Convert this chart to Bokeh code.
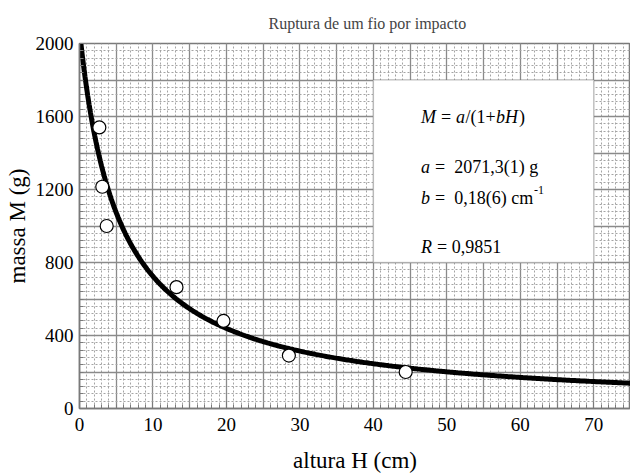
import numpy as np
from bokeh.plotting import figure
from bokeh.models import (SingleIntervalTicker, BoxAnnotation, Label, Range1d)
from bokeh.embed import file_html
from bokeh.resources import INLINE

# ---- data ----
altura_H = [2.7, 3.1, 3.7, 13.2, 19.6, 28.5, 44.4]          # cm
massa_M = [1540, 1215, 1000, 665, 480, 290, 200]            # g
fit_a = 2071.3   # g
fit_b = 0.186    # 1/cm
title_text = "Ruptura de um fio por impacto"
x_label = "altura H (cm)"
y_label = "massa M (g)"

H_fit = np.linspace(0, 75, 400)
M_fit = fit_a / (1 + fit_b * H_fit)

FONT = "Liberation Serif"
NB = "\u00a0"

p = figure(width=630, height=475, output_backend="svg", toolbar_location=None,
           x_range=Range1d(0, 75), y_range=Range1d(0, 2000),
           min_border_left=79, min_border_right=0, min_border_top=43,
           min_border_bottom=65)
p.background_fill_color = "white"
p.border_fill_color = "white"
p.outline_line_color = "#7a7a7a"
p.outline_line_width = 1.5

# title
p.title.text = title_text
p.title.text_font = FONT
p.title.text_font_size = "16px"
p.title.text_font_style = "normal"
p.title.align = "left"
p.title.offset = 189
p.title.standoff = 24

# grids
p.xgrid.ticker = SingleIntervalTicker(interval=5, num_minor_ticks=5)
p.ygrid.ticker = SingleIntervalTicker(interval=200, num_minor_ticks=5)
for g in (p.xgrid, p.ygrid):
    g.grid_line_color = "#8a8a8a"
    g.grid_line_width = 1.3
    g.minor_grid_line_color = "#a4a4a4"
    g.minor_grid_line_width = 1
    g.minor_grid_line_dash = "2 2"

# axes
p.xaxis.ticker = SingleIntervalTicker(interval=10, num_minor_ticks=10)
p.yaxis.ticker = SingleIntervalTicker(interval=400, num_minor_ticks=10)
p.xaxis.axis_label = x_label
p.yaxis.axis_label = y_label
for ax in (p.xaxis, p.yaxis):
    ax.axis_line_color = "#7a7a7a"
    ax.axis_line_width = 1.5
    ax.major_tick_in = 7
    ax.major_tick_out = 0
    ax.minor_tick_in = 4
    ax.minor_tick_out = 0
    ax.major_tick_line_color = "#7a7a7a"
    ax.minor_tick_line_color = "#7a7a7a"
    ax.major_label_text_font = FONT
    ax.major_label_text_font_size = "19px"
    ax.major_label_text_color = "black"
    ax.axis_label_text_font = FONT
    ax.axis_label_text_font_size = "23px"
    ax.axis_label_text_font_style = "normal"
    ax.axis_label_text_color = "black"
p.xaxis.major_label_standoff = 9
p.yaxis.major_label_standoff = 6
p.xaxis.axis_label_standoff = 14
p.yaxis.axis_label_standoff = 3

# fit curve and points
p.line(H_fit, M_fit, line_color="black", line_width=5)
p.scatter(altura_H, massa_M, marker="circle", size=13, fill_color="white",
          line_color="black", line_width=1.2)

# results box
p.add_layout(BoxAnnotation(left=40, right=70, bottom=800, top=1800,
                           fill_color="white", fill_alpha=1.0,
                           line_color="#7a7a7a", line_width=1.5))

def piece(text, x, y, xoff=0, yoff=0, italic=False, size=18):
    p.add_layout(Label(x=x, y=y, x_offset=xoff, y_offset=yoff, text=text,
                       text_font=FONT, text_font_size=f"{size}px",
                       text_font_style="italic" if italic else "normal",
                       text_color="black", text_baseline="middle",
                       text_align="left"))

bx = 46.5
# line 1
piece("M", bx, 1600, 0, italic=True)
piece(NB + "=" + NB, bx, 1600, 15.5)
piece("a", bx, 1600, 35, italic=True)
piece("/(1+", bx, 1600, 44.5)
piece("bH", bx, 1600, 75, italic=True)
piece(")", bx, 1600, 98)
# line 2
piece("a", bx, 1325, 0, italic=True)
piece(NB + "=" + NB + NB + "2071,3(1)" + NB + "g", bx, 1325, 9.5)
# line 3
piece("b", bx, 1155, 0, italic=True)
piece(NB + "=" + NB + NB + "0,18(6)" + NB + "cm", bx, 1155, 9.5)
piece("-1", bx, 1155, 113, 8, size=12)
# line 4
piece("R", bx, 883, 0, italic=True)
piece(NB + "=" + NB + "0,9851", bx, 883, 11.5)

open("out.html", "w").write(file_html(p, INLINE))
